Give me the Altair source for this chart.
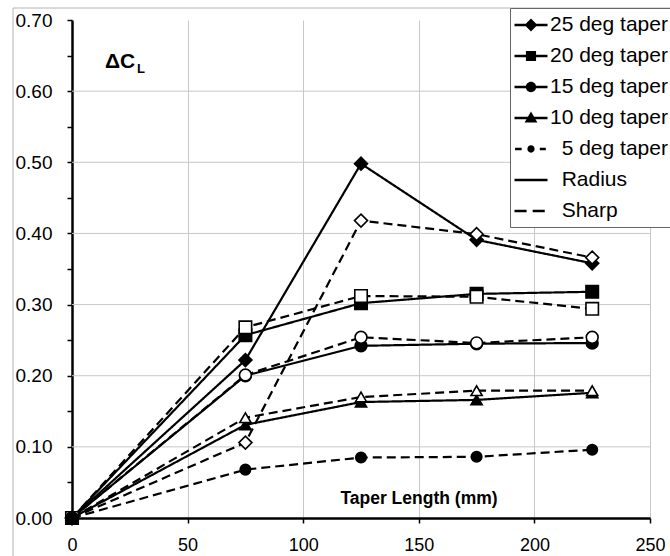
import altair as alt
import pandas as pd

# ---------------- data ----------------
x_mm = [0, 75, 125, 175, 225]

radius_25 = [0.0, 0.222, 0.498, 0.391, 0.358]
sharp_25 = [0.0, 0.106, 0.418, 0.399, 0.366]
radius_20 = [0.0, 0.257, 0.302, 0.315, 0.318]
sharp_20 = [0.0, 0.268, 0.312, 0.311, 0.294]
radius_15 = [0.0, 0.200, 0.242, 0.245, 0.246]
sharp_15 = [0.0, 0.201, 0.254, 0.246, 0.254]
radius_10 = [0.0, 0.131, 0.163, 0.166, 0.176]
sharp_10 = [0.0, 0.141, 0.170, 0.179, 0.179]
sharp_5 = [0.0, 0.068, 0.085, 0.086, 0.096]

tapers = ["25 deg taper", "20 deg taper", "15 deg taper", "10 deg taper", "5 deg taper"]
edges = ["Radius", "Sharp"]

series_list = [
    ("25 deg taper", "Radius", radius_25),
    ("25 deg taper", "Sharp", sharp_25),
    ("20 deg taper", "Radius", radius_20),
    ("20 deg taper", "Sharp", sharp_20),
    ("15 deg taper", "Radius", radius_15),
    ("15 deg taper", "Sharp", sharp_15),
    ("10 deg taper", "Radius", radius_10),
    ("10 deg taper", "Sharp", sharp_10),
    ("5 deg taper", "Sharp", sharp_5),
]

# a zero-width space keeps the indent (non-breaking spaces) from being trimmed
IND = "\u200b\u00a0\u00a0"
legend_labels = ["25 deg taper", "20 deg taper", "15 deg taper", "10 deg taper",
                 IND + "5 deg taper", IND + "Radius", IND + "Sharp"]

x_ticks = [0, 50, 100, 150, 200, 250]
y_ticks = [0.0, 0.05, 0.10, 0.15, 0.20, 0.25, 0.30, 0.35, 0.40, 0.45, 0.50, 0.55, 0.60, 0.65, 0.70]
y_grid = [0.10, 0.20, 0.30, 0.40, 0.50, 0.60]

ann_dc = "ΔC"
ann_sub = "L"
ann_x = "Taper Length (mm)"

# ---------------- tables ----------------
rows = []
for taper, edge, vals in series_list:
    for xv, yv in zip(x_mm, vals):
        rows.append({"taper": taper, "edge": edge, "series": f"{taper} {edge}",
                     "x": xv, "y": yv})
df = pd.DataFrame(rows)
series_names = [f"{t} {e}" for t, e, _ in series_list]

FONT = "Liberation Sans"
W, H = 578, 498

xscale = alt.Scale(domain=[0, 250], nice=False, zero=False)
yscale = alt.Scale(domain=[0, 0.7], nice=False, zero=False)

x_axis = alt.Axis(values=x_ticks, grid=True, gridColor="#c8c8c8", gridWidth=1,
                  domainColor="black", domainWidth=2.5, tickColor="black",
                  tickSize=5, tickWidth=1.5, labelFontSize=18, labelFont=FONT,
                  labelColor="black", labelPadding=13, title=None, labelFlush=False)
y_axis = alt.Axis(values=y_ticks, grid=False, domainColor="black", domainWidth=2.5,
                  tickColor="black", tickSize=5, tickWidth=1.5, labelFontSize=19,
                  labelFont=FONT, labelColor="black", labelPadding=15, title=None,
                  labelFlush=False,
                  labelExpr="(round(datum.value*100) % 10 == 0) ? format(datum.value, '.2f') : ''")


def X(field="x"):
    return alt.X(f"{field}:Q", scale=xscale, axis=x_axis)


def Y(field="y"):
    return alt.Y(f"{field}:Q", scale=yscale, axis=y_axis)


# background border of the chart area
border = alt.Chart(pd.DataFrame({"a": [0]})).mark_rect(
    fillOpacity=0, stroke="#b4b4b4", strokeWidth=1
).encode(x=alt.value(-59), x2=alt.value(700), y=alt.value(-12), y2=alt.value(600))

grid = alt.Chart(pd.DataFrame({"y": y_grid})).mark_rule(
    color="#c8c8c8", strokeWidth=1
).encode(y=Y("y"))

lines = alt.Chart(df).mark_line(color="black", strokeWidth=2.2).encode(
    x=X(), y=Y(),
    detail="series:N",
    strokeDash=alt.StrokeDash("edge:N", scale=alt.Scale(domain=edges, range=[[1, 0], [9, 5]]),
                              legend=None),
    order="x:Q",
)

points = alt.Chart(df).mark_point(filled=True, opacity=1, stroke="black", strokeWidth=1.6).encode(
    x=X(), y=Y(),
    shape=alt.Shape("taper:N", scale=alt.Scale(domain=tapers,
                    range=["diamond", "square", "circle", "triangle-up", "circle"]), legend=None),
    size=alt.Size("taper:N", scale=alt.Scale(domain=tapers, range=[170, 110, 120, 130, 45]),
                  legend=None),
    fill=alt.Fill("series:N", scale=alt.Scale(domain=series_names,
                  range=["black", "white", "black", "white", "black", "white",
                         "black", "white", "black"]), legend=None),
)


# legend symbols: filled geometry only (line segments drawn as thin bars), unit coordinates
def bar(a, b, h=0.11):
    return f"M{a},-{h}L{b},-{h}L{b},{h}L{a},{h}Z"


def circ(r):
    return f"M{r},0A{r},{r},0,1,1,-{r},0A{r},{r},0,1,1,{r},0Z"


legend_paths = [
    bar(-1.5, 1.5) + "M0,-0.58L0.58,0L0,0.58L-0.58,0Z",
    bar(-1.5, 1.5) + "M-0.46,-0.46L0.46,-0.46L0.46,0.46L-0.46,0.46Z",
    bar(-1.5, 1.5) + circ(0.47),
    bar(-1.5, 1.5) + "M0,-0.58L0.58,0.42L-0.58,0.42Z",
    bar(-1.45, -0.85) + bar(0.8, 1.35) + circ(0.33),
    bar(-1.5, 1.5),
    bar(-1.5, -0.4) + bar(0.15, 1.25),
]

leg_df = pd.DataFrame({"label": legend_labels, "x": [None] * 7, "y": [None] * 7})
legend_layer = alt.Chart(leg_df).mark_point(
    filled=True, fill="black", opacity=1, size=484
).encode(
    x=X(), y=Y(),
    shape=alt.Shape("label:N", scale=alt.Scale(domain=legend_labels, range=legend_paths),
                    legend=alt.Legend(orient="none", legendX=438, legendY=-12, padding=6,
                                      fillColor="white", strokeColor="#666666",
                                      symbolOffset=4, labelOffset=8, rowPadding=10,
                                      labelFontSize=21, labelFont=FONT, labelColor="black",
                                      symbolSize=484, symbolStrokeWidth=0,
                                      symbolFillColor="black",
                                      title=None, labelLimit=400)),
)

one = pd.DataFrame({"a": [0]})
t_dc = alt.Chart(one).mark_text(text=ann_dc, font=FONT, fontSize=21, fontWeight="bold",
                                align="left", baseline="alphabetic", color="black").encode(
    x=alt.value(33), y=alt.value(48))
t_sub = alt.Chart(one).mark_text(text=ann_sub, font=FONT, fontSize=13, fontWeight="bold",
                                 align="left", baseline="alphabetic", color="black").encode(
    x=alt.value(65), y=alt.value(53))
t_x = alt.Chart(one).mark_text(text=ann_x, font=FONT, fontSize=17.5, fontWeight="bold",
                               align="center", baseline="alphabetic", color="black").encode(
    x=alt.value(347), y=alt.value(484))

chart = alt.layer(border, grid, lines, points, legend_layer, t_dc, t_sub, t_x).resolve_scale(
    shape="independent", size="independent", fill="independent", strokeDash="independent"
).properties(
    width=W, height=H,
    autosize=alt.AutoSizeParams(type="none"),
    padding={"left": 72, "top": 20, "right": 20, "bottom": 38},
    background="white",
).configure_view(stroke=None)

chart.save("out.html", embed_options={"renderer": "svg", "actions": False})
